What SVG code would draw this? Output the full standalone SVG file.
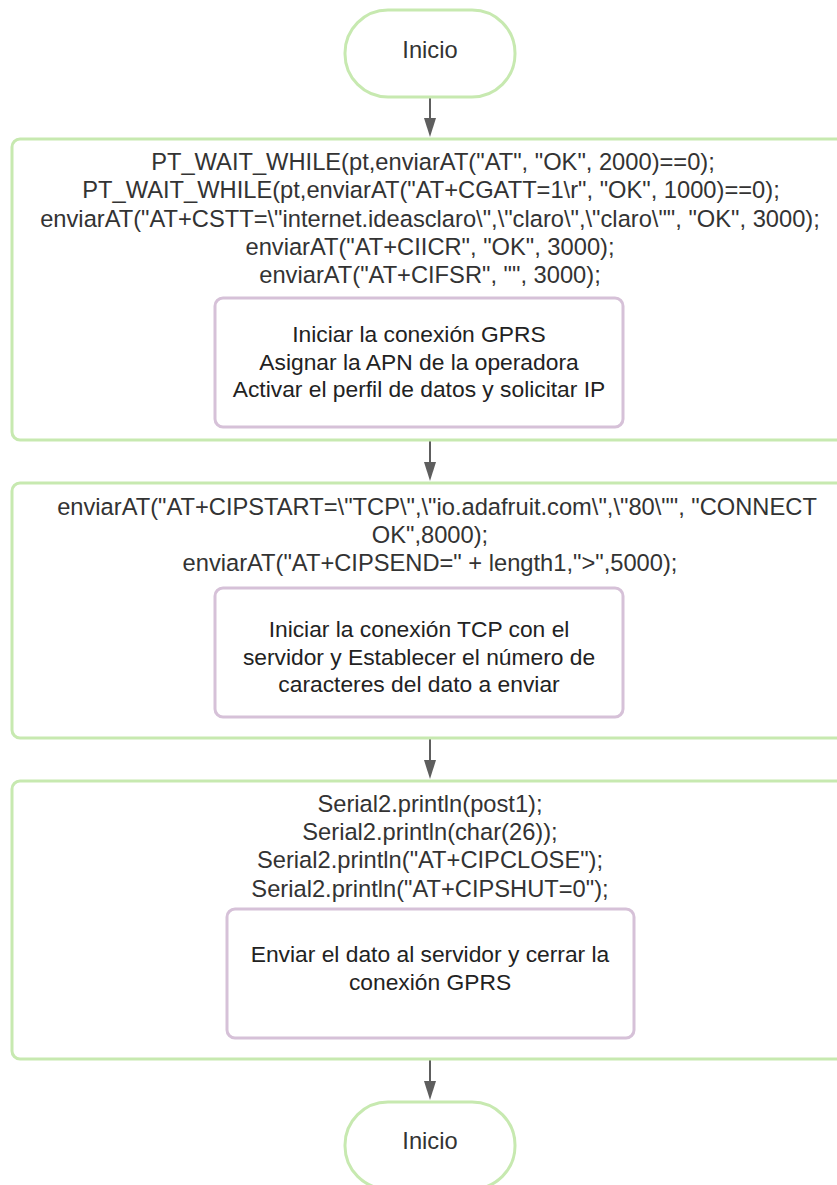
<svg xmlns="http://www.w3.org/2000/svg" width="837" height="1185" viewBox="0 0 837 1185">
<defs>
<style>
.term{fill:#fff;stroke:#c7e9b0;stroke-width:3}
.box{fill:#fff;stroke:#c7e9b0;stroke-width:3}
.inner{fill:#fff;stroke:#d6c1d8;stroke-width:3}
text{font-family:"Liberation Sans",Arial,sans-serif;font-size:23.7px;fill:#333;text-anchor:middle}
text.d{font-size:22.8px;fill:#222}
.conn{stroke:#5e5e5e;stroke-width:2;fill:none}
.head{fill:#5e5e5e}
</style>
</defs>
<rect width="837" height="1185" fill="#fff"/>
<g id="connectors">
<line class="conn" x1="430" y1="97" x2="430" y2="120"/><path class="head" d="M424,118 L436,118 L430,137 Z"/>
<line class="conn" x1="430" y1="441" x2="430" y2="464"/><path class="head" d="M424,462 L436,462 L430,481 Z"/>
<line class="conn" x1="430" y1="739" x2="430" y2="762"/><path class="head" d="M424,760 L436,760 L430,779 Z"/>
<line class="conn" x1="430" y1="1060" x2="430" y2="1083"/><path class="head" d="M424,1081 L436,1081 L430,1100 Z"/>
</g>
<g id="start">
<rect class="term" x="345" y="10" width="170" height="87" rx="43" ry="43"/>
<text x="430" y="58">Inicio</text>
</g>
<g id="step1">
<rect class="box" x="12" y="139" width="836" height="301" rx="8"/>
<text x="433" y="170">PT_WAIT_WHILE(pt,enviarAT("AT", "OK", 2000)==0);</text>
<text x="431" y="198">PT_WAIT_WHILE(pt,enviarAT("AT+CGATT=1\r", "OK", 1000)==0);</text>
<text x="430" y="227">enviarAT("AT+CSTT=\"internet.ideasclaro\",\"claro\",\"claro\"", "OK", 3000);</text>
<text x="430" y="255">enviarAT("AT+CIICR", "OK", 3000);</text>
<text x="430" y="283">enviarAT("AT+CIFSR", "", 3000);</text>
</g>
<g id="note1">
<rect class="inner" x="215" y="298" width="408" height="129" rx="8"/>
<text class="d" x="419" y="342">Iniciar la conexión GPRS</text>
<text class="d" x="419" y="370">Asignar la APN de la operadora</text>
<text class="d" x="419" y="397">Activar el perfil de datos y solicitar IP</text>
</g>
<g id="step2">
<rect class="box" x="12" y="483" width="836" height="255" rx="8"/>
<text x="437" y="515">enviarAT("AT+CIPSTART=\"TCP\",\"io.adafruit.com\",\"80\"", "CONNECT</text>
<text x="430" y="543">OK",8000);</text>
<text x="430" y="571">enviarAT("AT+CIPSEND=" + length1,"&gt;",5000);</text>
</g>
<g id="note2">
<rect class="inner" x="215" y="588" width="408" height="129" rx="8"/>
<text class="d" x="419" y="637">Iniciar la conexión TCP con el</text>
<text class="d" x="419" y="665">servidor y Establecer el número de</text>
<text class="d" x="419" y="692">caracteres del dato a enviar</text>
</g>
<g id="step3">
<rect class="box" x="12" y="781" width="836" height="278" rx="8"/>
<text x="430" y="812">Serial2.println(post1);</text>
<text x="430" y="840">Serial2.println(char(26));</text>
<text x="430" y="868">Serial2.println("AT+CIPCLOSE");</text>
<text x="430" y="897">Serial2.println("AT+CIPSHUT=0");</text>
</g>
<g id="note3">
<rect class="inner" x="227" y="909" width="407" height="129" rx="8"/>
<text class="d" x="430" y="962">Enviar el dato al servidor y cerrar la</text>
<text class="d" x="430" y="990">conexión GPRS</text>
</g>
<g id="end">
<rect class="term" x="345" y="1102" width="170" height="87" rx="43" ry="43"/>
<text x="430" y="1149">Inicio</text>
</g>
</svg>
